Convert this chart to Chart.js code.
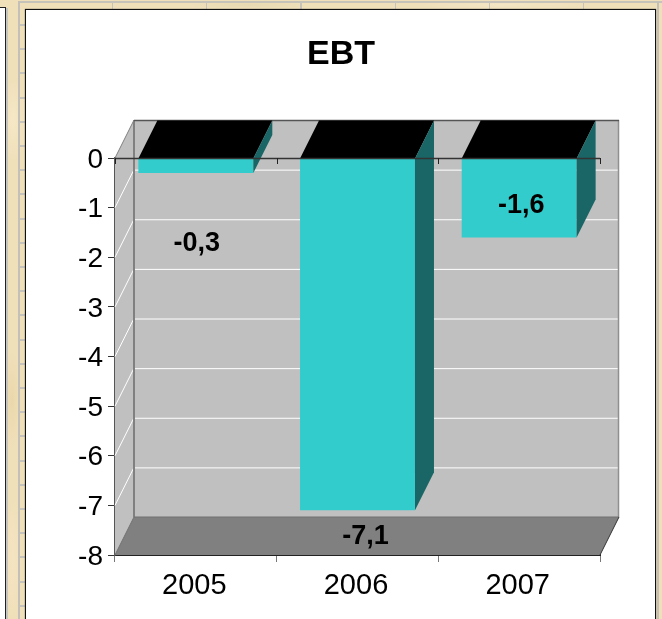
<!DOCTYPE html>
<html>
<head>
<meta charset="utf-8">
<title>EBT</title>
<script src="https://cdn.jsdelivr.net/npm/chart.js@4"></script>
<style>
  html, body { margin: 0; padding: 0; width: 662px; height: 619px; overflow: hidden; }
  body { position: relative; background: #f0e0ba; }
  /* sandstone wall behind the panels */
  .mottle { position: absolute; inset: 0;
    background:
      radial-gradient(ellipse 14px 40px at 13px 120px, #f6e8c6 0, transparent 100%),
      radial-gradient(ellipse 10px 50px at 12px 400px, #ead7ac 0, transparent 100%),
      radial-gradient(ellipse 10px 60px at 13px 560px, #f5e4c0 0, transparent 100%),
      radial-gradient(ellipse 60px 5px at 250px 5px, #e7d9b2 0, transparent 100%),
      radial-gradient(ellipse 80px 5px at 500px 5px, #f4e6c4 0, transparent 100%);
  }
  .joints-top { position: absolute; left: 18px; top: 1px; width: 644px; height: 2px; background: #c6c3ba; }
  .joints-top-v { position: absolute; left: 19px; top: 3px; width: 637px; height: 6px;
    background: repeating-linear-gradient(90deg, transparent 0 93px, #c6c3ba 93px 94.2px); }
  .joints-left { position: absolute; left: 19px; top: 24px; width: 6px; height: 595px;
    background: repeating-linear-gradient(180deg, #c6c3ba 0 2px, transparent 2px 24.2px); }
  .joints-far-left { position: absolute; left: 6px; top: 8px; width: 2px; height: 611px; background: #c6c5c0; }
  .joint-v1 { position: absolute; left: 18px; top: 1px; width: 2px; height: 618px; background: #c2c0b8; }
  .joint-v2 { position: absolute; left: 657px; top: 1px; width: 2px; height: 618px; background: #c2c0b8; }
  .side-panel { position: absolute; left: 0; top: 7px; width: 5px; height: 612px; background: #fff;
    border-top: 1px solid #222; border-right: 1px solid #222; }
  .panel { position: absolute; left: 25px; top: 9px; width: 629px; height: 620px; background: #fff;
    border: 1px solid #111; box-shadow: 0 0 1px #333; }
  canvas { position: absolute; left: 0; top: 0; }
</style>
</head>
<body>
<div class="mottle"></div>
<div class="joints-top"></div>
<div class="joints-top-v"></div>
<div class="joints-left"></div>
<div class="joint-v1"></div>
<div class="joint-v2"></div>
<div class="joints-far-left"></div>
<div class="side-panel"></div>
<div class="panel"></div>
<canvas id="chart" width="662" height="619"></canvas>
<script>
// Earnings before tax per year
const categories = ['2005', '2006', '2007'];
const ebtValues = [-0.3, -7.1, -1.6];
const chartTitle = 'EBT';
const axisMin = -8;
const axisMax = 0;
const axisStep = 1;

// Oblique projection used for the box around the plot and the bar extrusions
const DEPTH_X = 19;
const DEPTH_Y = 38;

const BAR_FRONT = '#33cccc';
const BAR_SIDE = '#1a6666';
const BAR_TOP = '#000000';
const WALL = '#c0c0c0';
const FLOOR = '#808080';

// Horizontal centre of the white panel, where the title belongs
const TITLE_CENTRE = 341;

// Value labels sit at hand-placed spots relative to each bar's end
const labelNudge = [[1, 71], [8, 26], [2, -32]];

function poly(ctx, pts, fill) {
  ctx.beginPath();
  pts.forEach((p, i) => i ? ctx.lineTo(p[0], p[1]) : ctx.moveTo(p[0], p[1]));
  ctx.closePath();
  ctx.fillStyle = fill;
  ctx.fill();
}
function seg(ctx, x0, y0, x1, y1, color, lw) {
  ctx.beginPath();
  ctx.moveTo(x0, y0);
  ctx.lineTo(x1, y1);
  ctx.strokeStyle = color;
  ctx.lineWidth = lw || 1;
  ctx.stroke();
}

const box3d = {
  id: 'box3d',
  afterLayout(chart) {
    const block = chart.titleBlock;
    block.left = 2 * TITLE_CENTRE - block.right;
  },
  // walls, floor and gridlines go underneath the bars
  beforeDatasetsDraw(chart) {
    const { ctx, chartArea: a, scales: { y } } = chart;
    const dx = DEPTH_X, dy = DEPTH_Y;
    ctx.save();
    poly(ctx, [[a.left + dx, a.top - dy], [a.right + dx, a.top - dy], [a.right + dx, a.bottom - dy], [a.left + dx, a.bottom - dy]], WALL);
    poly(ctx, [[a.left, a.top], [a.left + dx, a.top - dy], [a.left + dx, a.bottom - dy], [a.left, a.bottom]], WALL);
    for (let v = axisMax - axisStep; v > axisMin; v -= axisStep) {
      const py = y.getPixelForValue(v);
      seg(ctx, a.left + dx, py - dy + 0.5, a.right + dx, py - dy + 0.5, '#ffffff');
      seg(ctx, a.left, py, a.left + dx, py - dy, '#ffffff');
    }
    poly(ctx, [[a.left, a.bottom], [a.right, a.bottom], [a.right + dx, a.bottom - dy], [a.left + dx, a.bottom - dy]], FLOOR);
    seg(ctx, a.left + dx, a.top - dy, a.left + dx, a.bottom - dy, '#808080', 2);
    seg(ctx, a.left, a.top, a.left + dx, a.top - dy, '#808080', 1);
    seg(ctx, a.left, a.bottom, a.left + dx, a.bottom - dy, '#6f6f6f', 1);
    seg(ctx, a.right + dx - 0.5, a.top - dy, a.right + dx - 0.5, a.bottom - dy, '#8f8f8f', 1.5);
    seg(ctx, a.left + dx, a.top - dy + 0.5, a.right + dx, a.top - dy + 0.5, '#555555', 1.5);
    seg(ctx, a.left + dx, a.bottom - dy, a.right + dx, a.bottom - dy, '#707070', 1);
    seg(ctx, a.right, a.bottom, a.right + dx, a.bottom - dy, '#333333', 1);
    ctx.restore();
  },
  // extrusions, the zero line and the value labels go on top of the bars
  afterDatasetsDraw(chart) {
    const { ctx, chartArea: a, scales: { y } } = chart;
    const dx = DEPTH_X, dy = DEPTH_Y;
    const bars = chart.getDatasetMeta(0).data;
    ctx.save();
    bars.forEach(b => {
      const l = b.x - b.width / 2, r = b.x + b.width / 2;
      poly(ctx, [[l, b.base], [r, b.base], [r + dx, b.base - dy], [l + dx, b.base - dy]], BAR_TOP);
      poly(ctx, [[r, b.base], [r + dx, b.base - dy], [r + dx, b.y - dy], [r, b.y]], BAR_SIDE);
    });
    const zero = y.getPixelForValue(0);
    seg(ctx, a.left, zero + 0.5, a.right, zero + 0.5, '#333333', 1.5);
    for (let i = 0; i <= categories.length; i++) {
      const tx = Math.round(a.left + (a.right - a.left) * i / categories.length) + 0.5;
      seg(ctx, tx, zero, tx, zero + 6, '#222222', 1);
    }
    ctx.fillStyle = '#000000';
    ctx.font = 'bold 27px "Liberation Sans", Arial, sans-serif';
    ctx.textAlign = 'center';
    ctx.textBaseline = 'middle';
    bars.forEach((b, i) => {
      const text = ebtValues[i].toFixed(1).replace('.', ',');
      ctx.fillText(text, b.x + labelNudge[i][0], b.y + labelNudge[i][1]);
    });
    ctx.restore();
  }
};

new Chart(document.getElementById('chart'), {
  type: 'bar',
  data: {
    labels: categories,
    datasets: [{
      label: chartTitle,
      data: ebtValues,
      backgroundColor: BAR_FRONT,
      borderWidth: 0,
      barPercentage: 0.711,
      categoryPercentage: 1
    }]
  },
  plugins: [box3d],
  options: {
    responsive: false,
    animation: false,
    layout: { padding: { left: 42, right: 62, top: 0, bottom: 0 } },
    plugins: {
      legend: { display: false },
      tooltip: { enabled: false },
      title: {
        display: true,
        text: chartTitle,
        color: '#000000',
        font: { family: '"Liberation Sans", Arial, sans-serif', size: 34, weight: 'bold', lineHeight: 1.2 },
        padding: { top: 34, bottom: 83.2 }
      }
    },
    scales: {
      x: {
        type: 'category',
        afterFit(scale) { scale.height = 64; },
        grid: { offset: true, drawOnChartArea: false, drawTicks: true, tickLength: 7, color: '#777777' },
        border: { color: '#222222', width: 2 },
        ticks: { color: '#000000', padding: 7, maxRotation: 0, labelOffset: -1.5,
          font: { family: '"Liberation Sans", Arial, sans-serif', size: 29 } }
      },
      y: {
        min: axisMin,
        max: axisMax,
        afterFit(scale) { scale.width = 73; },
        grid: { drawOnChartArea: false, drawTicks: true, tickLength: 7, color: '#333333' },
        border: { color: '#555555', width: 1.5 },
        ticks: { color: '#000000', stepSize: axisStep, padding: 5, labelOffset: 2,
          font: { family: '"Liberation Sans", Arial, sans-serif', size: 28 } }
      }
    }
  }
});
</script>
</body>
</html>
